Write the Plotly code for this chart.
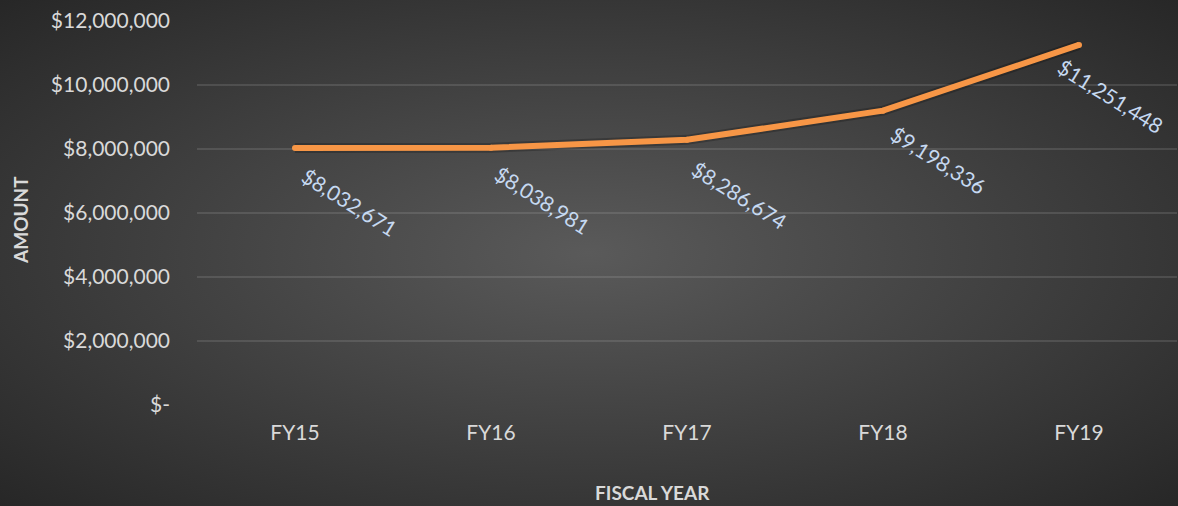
import base64
import plotly.graph_objects as go

# ---- data ----
years = ["FY15", "FY16", "FY17", "FY18", "FY19"]
amounts = [8032671, 8038981, 8286674, 9198336, 11251448]
y_tick_vals = [0, 2000000, 4000000, 6000000, 8000000, 10000000, 12000000]
y_tick_text = ["$-", "$2,000,000", "$4,000,000", "$6,000,000", "$8,000,000", "$10,000,000", "$12,000,000"]

# ---- style / layout ----
W, H = 1178, 506
M_L, M_R, M_T, M_B = 197, 1, 21, 101
PW, PH = W - M_L - M_R, H - M_T - M_B
FONT = "Lato"
label_shift = [(54, -54), (51, -52), (52, -55), (55, -49), (31, -51)]

svg = f'''<svg xmlns="http://www.w3.org/2000/svg" width="{W}" height="{H}" viewBox="0 0 {W} {H}" preserveAspectRatio="none">
<defs><radialGradient id="g" cx="50%" cy="50%" r="72%">
<stop offset="0" stop-color="#5a5a5a"/><stop offset="1" stop-color="#262626"/>
</radialGradient></defs>
<rect width="{W}" height="{H}" fill="url(#g)"/></svg>'''
bg_uri = "data:image/svg+xml;base64," + base64.b64encode(svg.encode()).decode()

fig = go.Figure()
fig.add_trace(go.Scatter(x=years, y=amounts, mode="lines",
                         line=dict(color="rgba(0,0,0,0.22)", width=10),
                         hoverinfo="skip", showlegend=False))
fig.add_trace(go.Scatter(x=years, y=amounts, mode="lines+markers",
                         line=dict(color="#F79646", width=6),
                         marker=dict(color="#F79646", size=6, line=dict(width=0)),
                         showlegend=False))

fmt = lambda v: "${:,.0f}".format(v)
for (yr, val), (dx, dy) in zip(zip(years, amounts), label_shift):
    fig.add_annotation(x=yr, y=val, xref="x", yref="y", text=fmt(val),
                       showarrow=False, textangle=32, xshift=dx, yshift=dy,
                       font=dict(family=FONT, size=21, color="#C6D9F1"))

fig.add_annotation(x=(652 - M_L) / PW, y=-(492 - M_T - PH) / PH, xref="paper", yref="paper",
                   xanchor="center", yanchor="middle",
                   text="<b>FISCAL YEAR</b>", showarrow=False,
                   font=dict(family=FONT, size=19, color="#D9D9D9"))
fig.add_annotation(x=-(M_L - 20) / PW, y=(M_T + PH - 220) / PH, xref="paper", yref="paper",
                   xanchor="center", yanchor="middle",
                   text="<b>AMOUNT</b>", showarrow=False, textangle=-90,
                   font=dict(family=FONT, size=19, color="#D9D9D9"))

fig.add_layout_image(dict(source=bg_uri, xref="paper", yref="paper",
                          x=-M_L / PW, y=1 + M_T / PH, sizex=W / PW, sizey=H / PH,
                          xanchor="left", yanchor="top", sizing="stretch", layer="below"))

fig.update_layout(
    width=W, height=H,
    margin=dict(l=M_L, r=M_R, t=M_T, b=M_B),
    paper_bgcolor="#3a3a3a", plot_bgcolor="rgba(0,0,0,0)",
    font=dict(family=FONT, color="#D9D9D9"),
    showlegend=False,
)
fig.update_xaxes(range=[-0.5, 4.5], showgrid=False, zeroline=False, showline=False,
                 tickfont=dict(family=FONT, size=21, color="#D9D9D9"),
                 ticklabelstandoff=13, fixedrange=True)
fig.update_yaxes(range=[0, 12000000], tickvals=y_tick_vals, ticktext=y_tick_text,
                 showgrid=True, gridcolor="rgba(200,200,200,0.16)", gridwidth=2,
                 zeroline=False, showline=False,
                 tickfont=dict(family=FONT, size=21, color="#D9D9D9"),
                 ticklabelstandoff=26, fixedrange=True)

fig.write_html("out.html", config={"displayModeBar": False},
               post_script="document.body.style.margin='0';document.body.style.overflow='hidden';")
